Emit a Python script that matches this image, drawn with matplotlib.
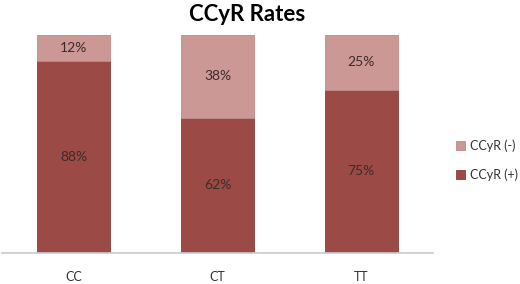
import matplotlib
matplotlib.use('Agg')
import matplotlib.pyplot as plt
import numpy as np

genotypes = ['CC', 'CT', 'TT']
ccyr_pos = [88, 62, 75]
ccyr_neg = [12, 38, 25]

dark_red = '#9c4a46'
light_red = '#cb9895'
text_color = '#3d2b2b'

plt.rcParams['font.family'] = ['Lato', 'DejaVu Sans']

fig = plt.figure(figsize=(5.2, 2.84), dpi=100)
ax = fig.add_axes([2 / 520, 31 / 284, 431 / 520, 218 / 284])

x = np.arange(len(genotypes))
bar_w = 0.507
ax.bar(x, ccyr_pos, bar_w, color=dark_red, edgecolor='#8a3c38', linewidth=0.6, label='CCyR (+)')
ax.bar(x, ccyr_neg, bar_w, bottom=ccyr_pos, color=light_red, edgecolor='#c08a87',
       linewidth=0.6, label='CCyR (-)')

for i in range(len(genotypes)):
    ax.text(x[i], ccyr_pos[i] / 2, f'{ccyr_pos[i]}%', ha='center', va='center',
            fontsize=10, color=text_color)
    ax.text(x[i], ccyr_pos[i] + ccyr_neg[i] / 2, f'{ccyr_neg[i]}%', ha='center', va='center',
            fontsize=10, color=text_color)

ax.set_xlim(-0.5, 2.5)
ax.set_ylim(0, 100)
ax.set_xticks(x)
ax.set_xticklabels(genotypes, fontsize=9, color='#333333')
ax.tick_params(axis='x', length=0, pad=13)
ax.set_yticks([])
for side in ['top', 'right', 'left']:
    ax.spines[side].set_visible(False)
ax.spines['bottom'].set_color('#c8ccd0')
ax.spines['bottom'].set_linewidth(1.2)

fig.text(0.475, 0.95, 'CCyR Rates', ha='center', va='center', fontsize=16,
         fontweight='bold', color='black')

handles, labels = ax.get_legend_handles_labels()
fig.legend(handles[::-1], labels[::-1], loc='center left', bbox_to_anchor=(445 / 520, 1 - 160 / 284),
           frameon=False, fontsize=9, handlelength=0.7, handleheight=0.7,
           labelspacing=1.3, handletextpad=0.4, labelcolor='#333333')

fig.savefig('out.png', dpi=100)
